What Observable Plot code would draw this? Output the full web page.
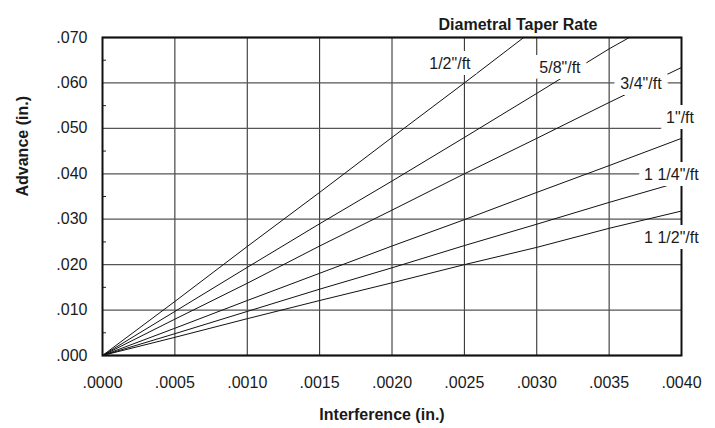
<!DOCTYPE html>
<html>
<head>
<meta charset="utf-8">
<script src="https://cdn.jsdelivr.net/npm/d3@7"></script>
<script src="https://cdn.jsdelivr.net/npm/@observablehq/plot@0.6"></script>
<style>
  html, body { margin: 0; padding: 0; background: #fff; }
  #chart svg { display: block; }
</style>
</head>
<body>
<div id="chart"></div>
<script>
// ---- data ----
const rates = ['1/2"/ft', '5/8"/ft', '3/4"/ft', '1"/ft', '1 1/4"/ft', '1 1/2"/ft'];
const interference = [0, 0.0005, 0.0010, 0.0015, 0.0020, 0.0025, 0.0030, 0.0035, 0.0040];
const halfX = [0, 0.0005, 0.0010, 0.0015, 0.0020, 0.0025, 0.00291];
const halfY = [0, 0.0119, 0.0240, 0.0359, 0.0480, 0.0600, 0.0700];
const fiveEighthsX = [0, 0.0005, 0.0010, 0.0015, 0.0020, 0.0025, 0.0030, 0.0035, 0.00364];
const fiveEighthsY = [0, 0.0097, 0.0194, 0.0290, 0.0384, 0.0480, 0.0577, 0.0675, 0.0700];
const threeQuarterY = [0, 0.0080, 0.0159, 0.0241, 0.0320, 0.0400, 0.0478, 0.0557, 0.0634];
const oneY = [0, 0.0060, 0.0121, 0.0181, 0.0241, 0.0299, 0.0359, 0.0418, 0.0478];
const oneQuarterY = [0, 0.0048, 0.0097, 0.0146, 0.0193, 0.0242, 0.0289, 0.0337, 0.0383];
const oneHalfY = [0, 0.0040, 0.0081, 0.0121, 0.0160, 0.0200, 0.0238, 0.0280, 0.0318];

const xTicks = [0, 0.0005, 0.0010, 0.0015, 0.0020, 0.0025, 0.0030, 0.0035, 0.0040];
const yTicks = [0, 0.010, 0.020, 0.030, 0.040, 0.050, 0.060, 0.070];
const yMinorTicks = [0.005, 0.015, 0.025, 0.035, 0.045, 0.055, 0.065];

const labelText = ['1/2"/ft', '5/8"/ft', '3/4"/ft', '1"/ft', '1 1/4"/ft', '1 1/2"/ft'];
const labelX = [0.00240, 0.00316, 0.00372, 0.00399, 0.00393, 0.00393];
const labelY = [0.0643, 0.0634, 0.0599, 0.0524, 0.0398, 0.0258];

const titleText = "Diametral Taper Rate";
const xTitle = "Interference (in.)";
const yTitle = "Advance (in.)";

// ---- build table ----
const seriesX = [halfX, fiveEighthsX, interference, interference, interference, interference];
const seriesY = [halfY, fiveEighthsY, threeQuarterY, oneY, oneQuarterY, oneHalfY];
const rows = [];
rates.forEach((r, i) => seriesX[i].forEach((x, j) => rows.push({rate: r, x, y: seriesY[i][j]})));
const labels = labelText.map((t, i) => ({t, x: labelX[i], y: labelY[i]}));

const fmtX = d => d3.format(".4f")(d).replace(/^0/, "");
const fmtY = d => d3.format(".3f")(d).replace(/^0/, "");

const chart = Plot.plot({
  width: 715,
  height: 428,
  marginLeft: 102,
  marginRight: 34,
  marginTop: 37,
  marginBottom: 73,
  style: {fontFamily: "'Liberation Sans', Arial, sans-serif", fontSize: "16px", color: "#1a1a1a", background: "#fff"},
  x: {domain: [0, 0.004]},
  y: {domain: [0, 0.070]},
  marks: [
    Plot.gridX(xTicks, {stroke: "#222", strokeOpacity: 1, strokeWidth: 1}),
    Plot.gridY(yTicks, {stroke: "#555", strokeOpacity: 1, strokeWidth: 1.3}),
    Plot.axisX(xTicks, {tickSize: 0, tickPadding: 21, tickFormat: fmtX, fontSize: 16, label: null}),
    Plot.axisY(yTicks, {tickSize: 0, tickPadding: 15, tickFormat: fmtY, fontSize: 16, label: null}),
    Plot.axisY(yMinorTicks, {tickSize: -4, text: null, label: null, stroke: "#222"}),
    Plot.frame({stroke: "#111", strokeWidth: 2}),
    Plot.line(rows, {x: "x", y: "y", z: "rate", stroke: "#111", strokeWidth: 1}),
    Plot.text(labels, {x: "x", y: "y", text: "t", fontSize: 16, fill: "#1a1a1a", stroke: "white", strokeWidth: 12, strokeLinejoin: "miter"}),
    Plot.text([titleText], {frameAnchor: "top", dx: 126, dy: -19, fontWeight: "bold", fontSize: 16, fill: "#1a1a1a"}),
    Plot.text([xTitle], {frameAnchor: "bottom", dx: -10, dy: 64, fontWeight: "bold", fontSize: 16, fill: "#1a1a1a"}),
    Plot.text([yTitle], {frameAnchor: "left", dx: -80, rotate: -90, fontWeight: "bold", fontSize: 16, fill: "#1a1a1a"})
  ]
});
document.getElementById("chart").appendChild(chart);
</script>
</body>
</html>
